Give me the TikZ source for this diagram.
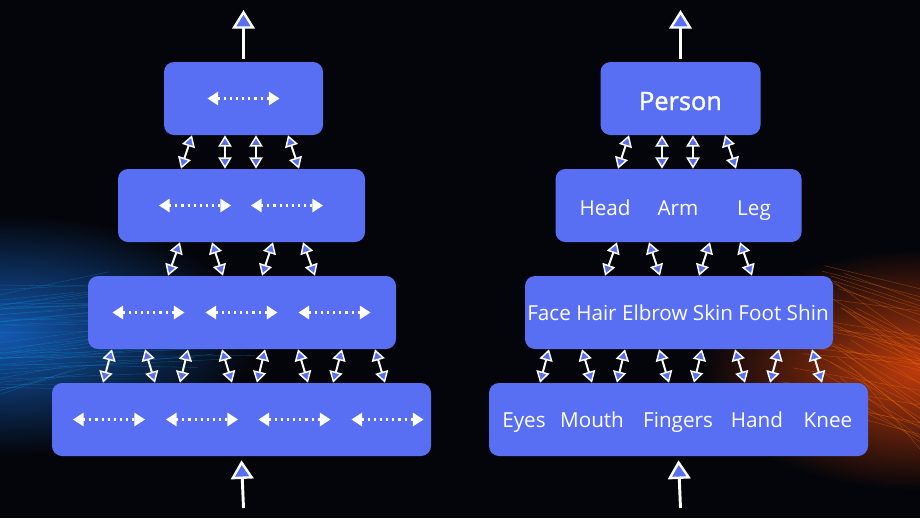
\documentclass[tikz,border=0pt]{standalone}
\usepackage{fontspec}
\setmainfont{Open Sans}
\newfontface\personfont{Open Sans}[FakeBold=1.3]
\usetikzlibrary{arrows.meta,calc}
\definecolor{boxblue}{RGB}{89,111,243}
\definecolor{bgdark}{RGB}{4,5,10}
\definecolor{glowblue}{RGB}{25,110,220}
\definecolor{gloworange}{RGB}{225,70,15}
\tikzset{
  layer/.style={fill=boxblue,rounded corners=7.5pt,minimum height=54.75pt,inner sep=0pt},
  word/.style={white,anchor=base,inner sep=0pt,font=\fontsize{15.5}{18}\selectfont},
  link/.style={white,line width=1.5pt,{Triangle[fill=boxblue,length=8.5pt,width=10pt,line width=1.1pt]}-{Triangle[fill=boxblue,length=8.5pt,width=10pt,line width=1.1pt]}},
  flow/.style={white,line width=2.2pt,-{Triangle[fill=boxblue,length=14pt,width=17pt,line width=1.8pt]}},
  dotarrow/.style={white,line width=1.6pt,dash pattern=on 1.6pt off 3pt,{Triangle[length=8pt,width=10pt]}-{Triangle[length=8pt,width=10pt]}}
}
\begin{document}
\begin{tikzpicture}[x=0.75pt,y=-0.75pt,join=round] % Part hierarchy
  \useasboundingbox (0,0) rectangle (920,518);
  \clip (0,0) rectangle (920,518);
  \fill[bgdark] (0,0) rectangle (920,518);
  % glows
  \shade[inner color=glowblue!80!black,outer color=bgdark] (0,335) ellipse (260 and 120);
  \shade[inner color=gloworange!85!black,outer color=bgdark] (920,370) ellipse (220 and 120);
  \pgfmathsetseed{11}
  \foreach \i in {1,...,45}{
    \pgfmathsetmacro{\ya}{285+rnd*120}
    \pgfmathsetmacro{\yb}{\ya-25+rnd*30}
    \draw[cyan!70!blue,opacity=0.35,line width=0.4pt] (0,\ya) -- (60+rnd*200,\yb);
  }
  \foreach \i in {1,...,45}{
    \pgfmathsetmacro{\ya}{265+rnd*140}
    \pgfmathsetmacro{\yb}{\ya+10+rnd*60}
    \draw[orange!90!red,opacity=0.35,line width=0.4pt] (920,\yb) -- (780+rnd*100,\ya);
  }
  % left column
  \node[layer,minimum width=119.25pt] (L1) at (243.5,98.5) {};
  \node[layer,minimum width=185.25pt] (L2) at (241.5,205.5) {};
  \node[layer,minimum width=231pt] (L3) at (242,312.5) {};
  \node[layer,minimum width=284.25pt] (L4) at (241.5,419.5) {};
  \draw[dotarrow] (207.5,0 |- L1) -- (279.5,0 |- L1);
  \foreach \x in {195,287}
    \draw[dotarrow] (\x-36,0 |- L2) -- (\x+36,0 |- L2);
  \foreach \x in {148.5,241.5,334.5}
    \draw[dotarrow] (\x-36,0 |- L3) -- (\x+36,0 |- L3);
  \foreach \x in {109,202,294.5,387.5}
    \draw[dotarrow] (\x-36,0 |- L4) -- (\x+36,0 |- L4);
  % right column
  \node[layer,minimum width=120pt] (R1) at (680.5,98.5) {};
  \node[layer,minimum width=184.5pt] (R2) at (678.5,205.5) {};
  \node[layer,minimum width=231pt] (R3) at (679,312.5) {};
  \node[layer,minimum width=284.25pt] (R4) at (678.5,419.5) {};
  \node[word,font=\personfont\fontsize{19}{22}\selectfont] (person) at (680.5,110) {Person};
  \node[word] (head) at (605,215) {Head};
  \node[word] (arm) at (678,215) {Arm};
  \node[word] (leg) at (754,215) {Leg};
  \node[word] (parts) at (678,320.5) {Face Hair Elbrow Skin Foot Shin};
  \node[word] (eyes) at (524,427) {Eyes};
  \node[word] (mouth) at (592,427) {Mouth};
  \node[word] (fingers) at (678,427) {Fingers};
  \node[word] (hand) at (757,427) {Hand};
  \node[word] (knee) at (828,427) {Knee};
  % links between layers
  \foreach \c/\s in {L/0,R/437}{
    \foreach \a/\b in {192/181,225/225,256/256,288/299}
      \draw[link] (\a+\s,0 |- \c1.south) -- (\b+\s,0 |- \c2.north);
    \foreach \a/\b in {180/168,212/223,273/262,303/315}
      \draw[link] (\a+\s,0 |- \c2.south) -- (\b+\s,0 |- \c3.north);
    \foreach \a/\b in {112/103,145/155,188/180,222/232,265/257,298/308,342/333,375/385}
      \draw[link] (\a+\s,0 |- \c3.south) -- (\b+\s,0 |- \c4.north);
  }
  % in and out
  \coordinate (Ltop) at (243.5,10);
  \coordinate (Rtop) at (680.5,10);
  \coordinate (Lbot) at (243.5,508);
  \coordinate (Rbot) at (680.5,508);
  \draw[flow] ([yshift=2pt]L1.north) -- (Ltop);
  \draw[flow] ([yshift=2pt]R1.north) -- (Rtop);
  \draw[flow] (Lbot) -- ([yshift=-3pt]L4.south);
  \draw[flow] (Rbot) -- ([yshift=-3pt]R4.south);
\end{tikzpicture}
\end{document}
